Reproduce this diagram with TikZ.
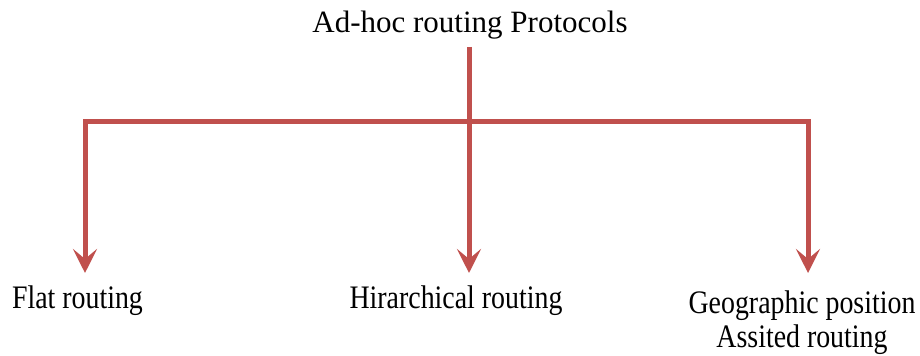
\documentclass[tikz,border=0pt]{standalone}
\usepackage{fontspec}
\setmainfont{Liberation Serif}
\newfontfamily\labelfont[FakeStretch=0.85]{Liberation Serif}
\usetikzlibrary{arrows.meta}
\definecolor{branchred}{RGB}{192,80,77}
\begin{document}
\begin{tikzpicture}[x=0.5pt,y=-0.5pt]
            \useasboundingbox (0,0) rectangle (920,356);
            \begin{scope}[every node/.style={inner sep=0pt, anchor=base}]

                \node[font=\fontsize{15.5}{18}\selectfont] (top) at (470,33) {Ad-hoc routing Protocols};
                \node[font=\labelfont\fontsize{16.4}{17}\selectfont] (flat) at (77.5,309) {Flat routing};
                \node[font=\labelfont\fontsize{16.4}{17}\selectfont] (hier) at (456,309) {Hirarchical routing};
                \node[font=\labelfont\fontsize{16.4}{17}\selectfont, align=center] (geo) at (802,348) {Geographic position\\Assited routing};

            \end{scope}
            \coordinate (split) at (469,122);
            \coordinate (flattip) at (85,273);
            \coordinate (hiertip) at (469,273);
            \coordinate (geotip) at (808,273);
            \begin{scope}[branchred, line width=2.5pt, -{Stealth[length=12pt, width=12pt, inset=5pt]}]
                \draw[-] (469,47) -- (split);
                \draw[line join=miter] (split) -| (flattip);
                \draw (split) -- (hiertip);
                \draw[line join=miter] (split) -| (geotip);
            \end{scope}

        \end{tikzpicture}
\end{document}
